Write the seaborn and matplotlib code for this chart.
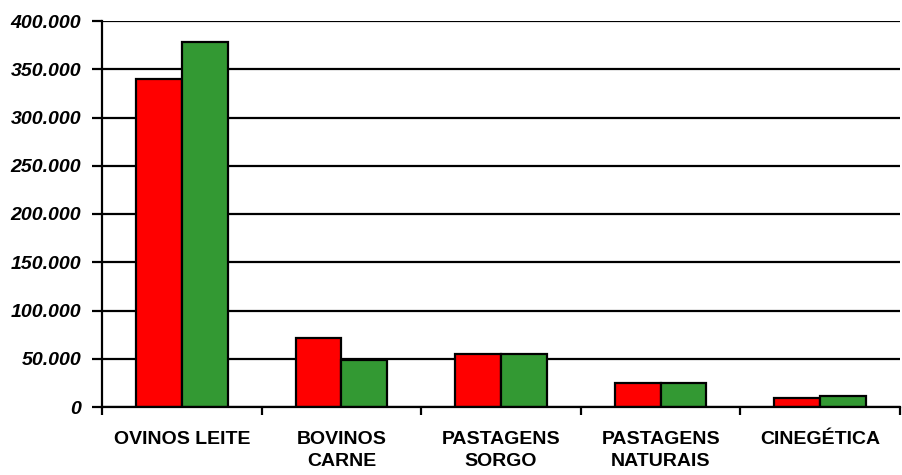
import matplotlib
matplotlib.use("Agg")
import matplotlib.pyplot as plt
import seaborn as sns
import pandas as pd
from matplotlib.ticker import FuncFormatter, FixedLocator

categories = ["OVINOS LEITE", "BOVINOS\nCARNE", "PASTAGENS\nSORGO", "PASTAGENS\nNATURAIS", "CINEGÉTICA"]
series_a = [340000, 71000, 54500, 25300, 9700]
series_b = [378000, 48700, 54500, 25300, 11400]
series_names = ["A", "B"]
colors = ["#FF0000", "#339933"]

df = pd.DataFrame({
    "cat": categories * 2,
    "val": series_a + series_b,
    "serie": [series_names[0]] * len(categories) + [series_names[1]] * len(categories),
})

sns.set_style("white")
plt.rcParams['font.family'] = ['Liberation Sans', 'DejaVu Sans']
plt.rcParams['text.color'] = 'black'
plt.rcParams['xtick.color'] = 'black'
plt.rcParams['ytick.color'] = 'black'

fig = plt.figure(figsize=(9.02, 4.75), dpi=100)
ax = fig.add_axes([102/902, 1-407/475, 798/902, (407-21)/475])

sns.barplot(data=df, x="cat", y="val", hue="serie", palette=colors, saturation=1, width=0.575,
            edgecolor="black", linewidth=1.6, ax=ax, legend=False, zorder=3)

ax.set_ylim(0, 400000)
ax.set_xlim(-0.5, len(categories) - 0.5)
ax.set_yticks(range(0, 400001, 50000))
ax.yaxis.set_major_formatter(FuncFormatter(lambda v, p: "0" if v == 0 else f"{int(v):,}".replace(",", ".")))
ax.grid(axis="y", color="black", linewidth=1.6, zorder=0)
ax.set_axisbelow(True)

ax.xaxis.set_major_locator(FixedLocator([i - 0.5 for i in range(len(categories) + 1)]))
ax.xaxis.set_minor_locator(FixedLocator(list(range(len(categories)))))
ax.set_xticklabels([""] * (len(categories) + 1))
ax.set_xticklabels(categories, minor=True, fontsize=14, fontweight="bold", linespacing=1.45, color="black")
ax.tick_params(axis="x", which="minor", length=0, pad=17, labelcolor="black")
ax.tick_params(axis="x", which="major", length=6, width=1.6, color="black", direction="out", bottom=True)
ax.tick_params(axis="y", length=7, width=1.6, color="black", direction="out", left=True, pad=8, labelcolor="black")
for lbl in ax.get_yticklabels():
    lbl.set_fontsize(14)
    lbl.set_fontweight("bold")
    lbl.set_fontstyle("italic")

for s in ["top", "right"]:
    ax.spines[s].set_visible(False)
for s in ["left", "bottom"]:
    ax.spines[s].set_color("black")
    ax.spines[s].set_linewidth(1.6)
    ax.spines[s].set_zorder(4)

ax.set_xlabel("")
ax.set_ylabel("")

fig.savefig("out.png", dpi=100)
